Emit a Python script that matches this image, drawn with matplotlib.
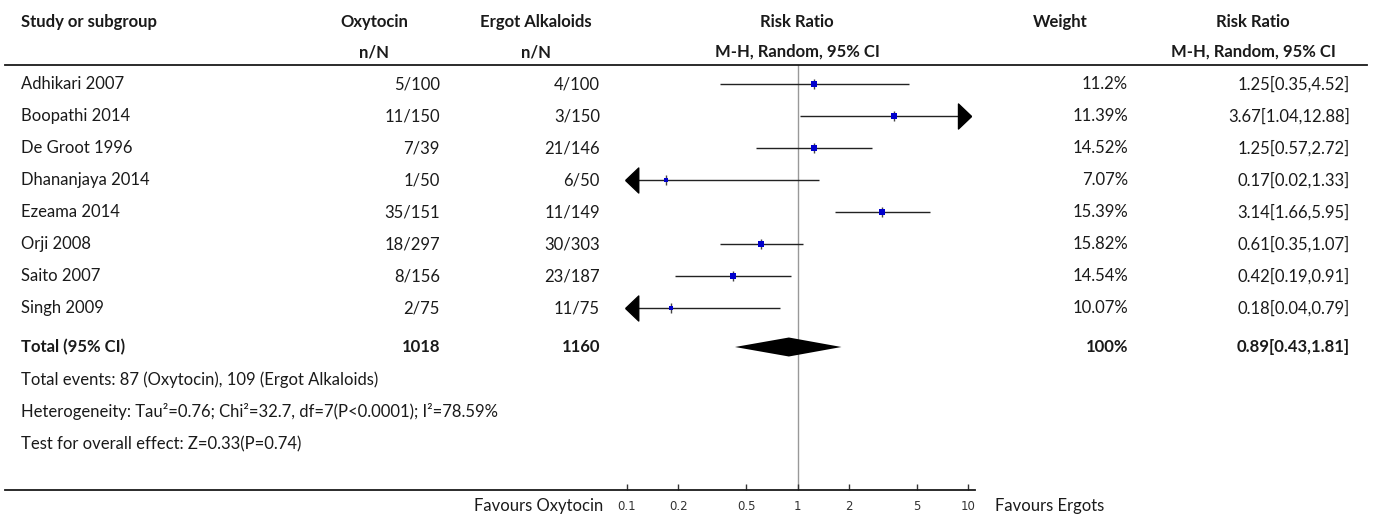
import matplotlib
matplotlib.use("Agg")
import matplotlib.pyplot as plt
from matplotlib.path import Path

# data
studies = ["Adhikari 2007", "Boopathi 2014", "De Groot 1996", "Dhananjaya 2014",
           "Ezeama 2014", "Orji 2008", "Saito 2007", "Singh 2009"]
oxy_nN = ["5/100", "11/150", "7/39", "1/50", "35/151", "18/297", "8/156", "2/75"]
ergot_nN = ["4/100", "3/150", "21/146", "6/50", "11/149", "30/303", "23/187", "11/75"]
rr = [1.25, 3.67, 1.25, 0.17, 3.14, 0.61, 0.42, 0.18]
lo = [0.35, 1.04, 0.57, 0.02, 1.66, 0.35, 0.19, 0.04]
hi = [4.52, 12.88, 2.72, 1.33, 5.95, 1.07, 0.91, 0.79]
weights = [11.2, 11.39, 14.52, 7.07, 15.39, 15.82, 14.54, 10.07]
weight_labels = ["11.2%", "11.39%", "14.52%", "7.07%", "15.39%", "15.82%", "14.54%", "10.07%"]
rr_labels = ["1.25[0.35,4.52]", "3.67[1.04,12.88]", "1.25[0.57,2.72]", "0.17[0.02,1.33]",
             "3.14[1.66,5.95]", "0.61[0.35,1.07]", "0.42[0.19,0.91]", "0.18[0.04,0.79]"]
total_oxy, total_ergot = "1018", "1160"
total_rr, total_lo, total_hi = 0.89, 0.43, 1.81
total_label = "0.89[0.43,1.81]"
ticks = [0.1, 0.2, 0.5, 1, 2, 5, 10]
tick_labels = ["0.1", "0.2", "0.5", "1", "2", "5", "10"]

W, H = 1375, 520
plt.rcParams["font.family"] = ["Lato", "DejaVu Sans"]
fig = plt.figure(figsize=(W / 100, H / 100), dpi=100)
TXT = "#1a1a1a"
FS = 12


def put(x, y, s, ha="left", bold=False, **kw):
    fig.text(x / W, 1 - y / H, s, ha=ha, va="center", fontsize=FS, color=TXT,
             fontweight="bold" if bold else "normal", **kw)


# layout in pixels
top_line, bottom_line = 65, 490
row0, step = 84, 32
total_y = 347
ax_left, ax_right = 627, 968

# headers
put(21, 22, "Study or subgroup", bold=True)
put(374, 22, "Oxytocin", ha="center", bold=True)
put(374, 52, "n/N", ha="center", bold=True)
put(536, 22, "Ergot Alkaloids", ha="center", bold=True)
put(536, 52, "n/N", ha="center", bold=True)
put(797, 22, "Risk Ratio", ha="center", bold=True)
put(797, 52, "M-H, Random, 95% CI", ha="center", bold=True)
put(1060, 22, "Weight", ha="center", bold=True)
put(1253, 22, "Risk Ratio", ha="center", bold=True)
put(1253, 52, "M-H, Random, 95% CI", ha="center", bold=True)

fig.add_artist(plt.Line2D([5 / W, 1367 / W], [1 - top_line / H] * 2, color="#1a1a1a", lw=1.3))
fig.add_artist(plt.Line2D([5 / W, 975 / W], [1 - bottom_line / H] * 2, color="#1a1a1a", lw=1.3))

# forest axis, y in pixels from the top
ax = fig.add_axes([ax_left / W, 1 - bottom_line / H, (ax_right - ax_left) / W,
                   (bottom_line - top_line) / H])
ax.set_xscale("log")
ax.set_xlim(0.1, 10)
ax.set_ylim(bottom_line, top_line)
for s in ax.spines.values():
    s.set_visible(False)
ax.set_yticks([])
ax.set_xticks(ticks)
ax.set_xticklabels(tick_labels, fontfamily="DejaVu Sans", fontsize=8.5, color="#333")
ax.minorticks_off()
ax.tick_params(axis="x", direction="in", length=4, width=1, color="#333", pad=7)
ax.patch.set_alpha(0)
ax.axvline(1, color="#999999", lw=1, zorder=1)

left_arrow = Path([(-0.15, 0), (0.9, -1), (0.9, 1), (-0.15, 0)])
right_arrow = Path([(0.25, 0), (-0.8, -1), (-0.8, 1), (0.25, 0)])

for i, name in enumerate(studies):
    y = row0 + i * step
    put(21, y, name)
    put(440, y, oxy_nN[i], ha="right")
    put(600, y, ergot_nN[i], ha="right")
    put(1128, y, weight_labels[i], ha="right")
    put(1350, y, rr_labels[i], ha="right")
    a, b = max(lo[i], 0.1), min(hi[i], 10)
    ax.plot([a, b], [y, y], color="#222", lw=1, zorder=2, solid_capstyle="butt")
    if lo[i] < 0.1:
        ax.plot(0.1, y, marker=left_arrow, ms=18, color="black", clip_on=False, zorder=3)
    if hi[i] > 10:
        ax.plot(10, y, marker=right_arrow, ms=18, color="black", clip_on=False, zorder=3)
    side = 1.5 * weights[i] ** 0.5 * 0.72
    ax.plot(rr[i], y, marker="|", ms=7, mew=1, color="#444", zorder=3)
    ax.plot(rr[i], y, marker="s", ms=side, mew=0, color="#0000cc", zorder=4)

# total row
ax.fill([total_lo, total_rr, total_hi, total_rr],
        [total_y, total_y - 9.5, total_y, total_y + 9.5], color="black", lw=0, zorder=4)
put(21, total_y, "Total (95% CI)", bold=True)
put(440, total_y, total_oxy, ha="right", bold=True)
put(600, total_y, total_ergot, ha="right", bold=True)
put(1128, total_y, "100%", ha="right", bold=True)
put(1350, total_y, total_label, ha="right", bold=True)

put(21, 380, "Total events: 87 (Oxytocin), 109 (Ergot Alkaloids)")
put(21, 412, "Heterogeneity: Tau\u00b2=0.76; Chi\u00b2=32.7, df=7(P<0.0001); I\u00b2=78.59%")
put(21, 444, "Test for overall effect: Z=0.33(P=0.74)")

put(603, 506, "Favours Oxytocin", ha="right")
put(995, 506, "Favours Ergots")

fig.savefig("out.png", dpi=100)
